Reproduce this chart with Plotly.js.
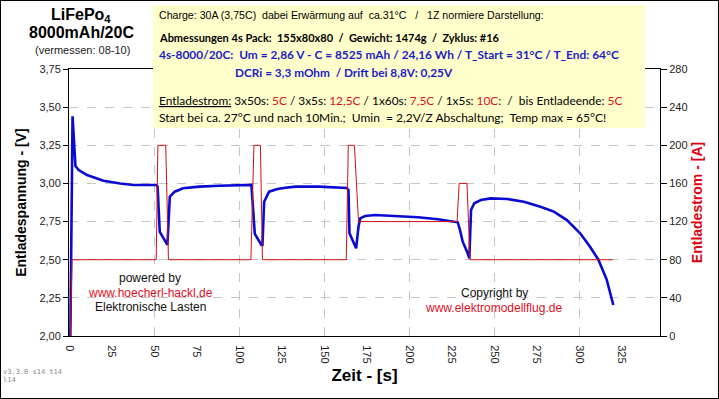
<!DOCTYPE html>
<html>
<head>
<meta charset="utf-8">
<script src="https://cdn.plot.ly/plotly-3.0.1.min.js"></script>
<style>
  html, body { margin: 0; padding: 0; background: #fff; }
  #wrap { position: relative; width: 719px; height: 399px; }
  #chart { width: 719px; height: 399px; }
  #frame { position: absolute; left: 0; top: 0; width: 717px; height: 397px; border: 1px solid #000; pointer-events: none; }
  #dbg { position: absolute; left: 3px; top: 368px; width: 64px; font: 7px monospace; color: #888; white-space: pre-wrap; word-break: break-all; }
</style>
</head>
<body>
<div id="wrap"><div id="chart"></div><div id="frame"></div><div id="dbg"></div></div>
<script>
const dbg = [];
function show() { document.getElementById('dbg').textContent = dbg.join(' '); }
window.addEventListener('error', e => { dbg.push('E:' + e.message); show(); });
window.addEventListener('unhandledrejection', e => { dbg.push('R:' + (e.reason && e.reason.message || e.reason)); show(); });

// ---- data ----
const timeVoltage = [0.5, 1.8, 3.5, 5.4, 10.3, 20, 29.8, 37.6, 51.2, 51.8, 53.1, 57.1, 57.6, 59, 61.9, 66.8, 76.5, 88.2,
  107, 109, 112.9, 113.5, 114.5, 117.4, 122.3, 127.1, 133, 146.6, 154.4, 163.1,
  164.1, 164.7, 168.6, 170, 171, 173.9, 179.7, 189.4, 197.3, 205, 216.7, 226.4, 228.4,
  229.7, 231.3, 234.2, 235.2, 236.2, 238.1, 242, 247.8, 257.6, 267.3, 277, 284.9, 292.6, 300.4, 306.2, 311.1, 316, 319.9];
const voltage = [2.0, 3.44, 3.114, 3.088, 3.055, 3.018, 3.0, 2.99, 2.99, 2.98, 2.683, 2.608, 2.597, 2.913, 2.946, 2.968, 2.979, 2.985,
  2.99, 2.669, 2.597, 2.597, 2.88, 2.946, 2.964, 2.972, 2.979, 2.979, 2.975, 2.97,
  2.957, 2.673, 2.575, 2.716, 2.771, 2.786, 2.793, 2.789, 2.782, 2.778, 2.765, 2.749, 2.745,
  2.695, 2.618, 2.542, 2.509, 2.826, 2.87, 2.891, 2.902, 2.898, 2.88, 2.847, 2.815, 2.76, 2.673, 2.585, 2.5, 2.37, 2.203];
const timeCurrent = [0.5, 1.5, 51, 52, 56.6, 58.2, 106.7, 108.5, 112.3, 113.5, 162.8, 164, 167.6, 170, 228, 229.2, 233.8, 235.6, 319.5];
const current = [0, 80, 80, 200, 200, 80, 80, 200, 200, 80, 80, 200, 200, 120, 120, 160, 160, 80, 80];
const xTickValues = [0, 25, 50, 75, 100, 125, 150, 175, 200, 225, 250, 275, 300, 325];
const xGridLines = [50, 100, 150, 200, 250, 300];
const vTickValues = [2.0, 2.25, 2.5, 2.75, 3.0, 3.25, 3.5, 3.75];
const vTickText = ['2,00', '2,25', '2,50', '2,75', '3,00', '3,25', '3,50', '3,75'];
const iTickValues = [0, 40, 80, 120, 160, 200, 240, 280];

// ---- geometry helpers (pixel -> paper) ----
const L = 69, R = 660, T = 69, B = 336, W = 719, H = 399;
const px = x => (x - L) / (R - L);
const py = y => (B - y) / (B - T);
// 50 s = 85 px; half-pixel offset keeps the vertical grid crisp
const xScale = 85 / 50, x0 = -0.5 / xScale;
const xRange = [x0, x0 + (R - L) / xScale], vRange = [2, 3.75], iRange = [0, 280];

const ARIAL = 'Liberation Sans, Arial, sans-serif';
const CAL = 'Lato, Liberation Sans, sans-serif';
const RED = '#e0101e';
const BLUE = '#1c1cc8';
const NB = '\u00a0';

const gridX = [], gridY = [];
xGridLines.forEach(g => { gridX.push(g, g, null); gridY.push(vRange[0], vRange[1], null); });

const traces = [
  { x: gridX, y: gridY, xaxis: 'x', yaxis: 'y', type: 'scatter', mode: 'lines', connectgaps: false,
    line: { color: '#c4c4c4', width: 1, dash: 'dash' }, showlegend: false, hoverinfo: 'skip' },
  { x: timeCurrent, y: current, yaxis: 'y2', xaxis: 'x', type: 'scatter', mode: 'lines',
    line: { color: '#d01010', width: 1 }, name: 'Entladestrom', showlegend: false, hoverinfo: 'skip' },
  { x: timeVoltage, y: voltage, xaxis: 'x', yaxis: 'y', type: 'scatter', mode: 'lines',
    line: { color: '#0a0ad2', width: 2.6 }, name: 'Entladespannung', showlegend: false, hoverinfo: 'skip' }
];

function ann(text, x, y, opts) {
  return Object.assign({ text: text, xref: 'paper', yref: 'paper', x: px(x), y: py(y), showarrow: false,
    xanchor: 'center', yanchor: 'middle', font: { family: ARIAL, size: 12, color: '#000' } }, opts || {});
}
const s = (n) => NB.repeat(n);

const annotations = [
  ann('<b>LiFePo<sub>4</sub></b>', 81, 16, { font: { family: ARIAL, size: 16, color: '#000' } }),
  ann('<b>8000mAh/20C</b>', 81, 33, { font: { family: ARIAL, size: 16, color: '#000' } }),
  ann('(vermessen: 08-10)', 82, 50, { font: { family: ARIAL, size: 11, color: '#222' } }),

  ann('Charge: 30A (3,75C)' + s(2) + 'dabei Erwärmung auf' + s(2) + 'ca.31°C' + s(3) + '/' + s(3) + '1Z normiere Darstellung:', 157, 15,
    { xanchor: 'left', font: { family: ARIAL, size: 10.6, color: '#000' } }),
  ann('<b>Abmessungen 4s Pack:' + s(2) + '155x80x80' + s(2) + '/' + s(2) + 'Gewicht: 1474g' + s(2) + '/' + s(2) + 'Zyklus: #16</b>', 157, 38,
    { xanchor: 'left', font: { family: CAL, size: 11, color: '#000' } }),
  ann('<b>4s-8000/20C:' + s(2) + 'Um = 2,86 V - C = 8525 mAh / 24,16 Wh / T_Start = 31°C / T_End: 64°C</b>', 157, 54,
    { xanchor: 'left', font: { family: CAL, size: 11.9, color: BLUE } }),
  ann('<b>DCRi = 3,3 mOhm' + s(2) + '/ Drift bei 8,8V: 0,25V</b>', 233, 72,
    { xanchor: 'left', font: { family: CAL, size: 11.8, color: BLUE } }),
  ann('<span style="text-decoration:underline">Entladestrom:</span>' + s(1) + '3x50s: <span style="color:' + RED + '">5C</span> / 3x5s: <span style="color:' + RED + '">12,5C</span> / 1x60s: <span style="color:' + RED + '">7,5C</span> / 1x5s: <span style="color:' + RED + '">10C</span>:' + s(2) + '/' + s(2) + 'bis Entladeende: <span style="color:' + RED + '">5C</span>', 157, 101,
    { xanchor: 'left', font: { family: CAL, size: 11.9, color: '#000' } }),
  ann('Start bei ca. 27°C und nach 10Min.;' + s(2) + 'Umin' + s(2) + '= 2,2V/Z Abschaltung;' + s(2) + 'Temp max = 65°C!', 157, 117,
    { xanchor: 'left', font: { family: CAL, size: 12, color: '#000' } }),

  ann('powered by', 150, 278, { font: { family: ARIAL, size: 12, color: '#111' } }),
  ann('www.hoecherl-hackl.de', 150, 293, { font: { family: ARIAL, size: 12, color: RED } }),
  ann('Elektronische Lasten', 150, 307, { font: { family: ARIAL, size: 12, color: '#111' } }),
  ann('Copyright by', 494, 293, { font: { family: ARIAL, size: 12, color: '#111' } }),
  ann('www.elektromodellflug.de', 493, 308, { font: { family: ARIAL, size: 12, color: RED } })
];

const shapes = [
  { type: 'rect', xref: 'paper', yref: 'paper', x0: px(153), x1: px(645), y0: py(128), y1: py(5),
    fillcolor: '#ffffcc', line: { width: 0 }, layer: 'above' }
];

const layout = {
  width: W, height: H,
  margin: { l: L, r: W - R, t: T, b: H - B, pad: 0 },
  paper_bgcolor: '#fff', plot_bgcolor: 'rgba(0,0,0,0)',
  showlegend: false,
  font: { family: ARIAL, size: 11, color: '#222' },
  xaxis: {
    range: xRange, tickmode: 'array', tickvals: xTickValues, ticktext: xTickValues.map(String),
    tickangle: 90,
    showgrid: false, zeroline: false, showline: true, linecolor: '#000', linewidth: 1, mirror: true,
    ticks: 'outside', ticklen: 6, tickcolor: 'rgba(0,0,0,0)',
    tickfont: { family: ARIAL, size: 11, color: '#222' },
    title: { text: '<b>Zeit - [s]</b>', standoff: 6, font: { family: ARIAL, size: 17, color: '#000' } }
  },
  yaxis: {
    range: vRange, tickmode: 'array', tickvals: vTickValues, ticktext: vTickText,
    showgrid: true, gridcolor: '#c4c4c4', griddash: 'dash', gridwidth: 1,
    zeroline: false, showline: true, linecolor: '#000', linewidth: 1,
    ticks: 'outside', ticklen: 5, tickcolor: '#000',
    tickfont: { family: ARIAL, size: 11, color: '#222' },
    title: { text: '<b>Entladespannung - [V]</b>', standoff: 9, font: { family: ARIAL, size: 14, color: '#000' } }
  },
  yaxis2: {
    overlaying: 'y', side: 'right', anchor: 'x', range: iRange, tickmode: 'array', tickvals: iTickValues,
    showgrid: false, zeroline: false, showline: true, linecolor: '#000', linewidth: 1,
    ticks: 'outside', ticklen: 6, tickcolor: '#000',
    tickfont: { family: ARIAL, size: 11, color: '#222' },
    title: { text: '<b>Entladestrom - [A]</b>', standoff: 5, font: { family: ARIAL, size: 14, color: '#e00010' } }
  },
  shapes: shapes,
  annotations: annotations
};

function rotatedCount() {
  let n = 0;
  document.querySelectorAll('.xtick text').forEach(t => { if ((t.getAttribute('transform') || '').indexOf('rotate') >= 0) n++; });
  return n;
}
dbg.push('v' + Plotly.version);
const p = Plotly.newPlot('chart', traces, layout, { staticPlot: true, displayModeBar: false });
dbg.push('s' + rotatedCount());
show();
p.then(() => { dbg.push('t' + rotatedCount()); show(); setTimeout(() => { dbg.push('l' + rotatedCount()); show(); }, 300); })
 .catch(e => { dbg.push('C:' + e.message); show(); });
</script>
</body>
</html>
